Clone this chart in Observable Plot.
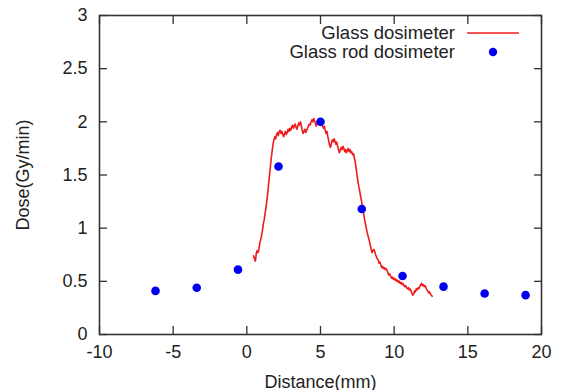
<!DOCTYPE html>
<html>
<head>
<meta charset="utf-8">
<script src="https://cdn.jsdelivr.net/npm/d3@7"></script>
<script src="https://cdn.jsdelivr.net/npm/@observablehq/plot@0.6"></script>
<style>
  html, body { margin: 0; padding: 0; background: #fff; }
  #chart svg { display: block; }
</style>
</head>
<body>
<div id="chart"></div>
<script>
// Tick values
const xTicks = [-10, -5, 0, 5, 10, 15, 20];
const yTicks = [0, 0.5, 1, 1.5, 2, 2.5, 3];

// Series names
const seriesNames = ["Glass dosimeter", "Glass rod dosimeter"];

// Glass rod dosimeter (points)
const rodX = [-6.2, -3.4, -0.6, 2.15, 5.0, 7.8, 10.57, 13.35, 16.14, 18.92];
const rodDose = [0.41, 0.44, 0.61, 1.58, 2.00, 1.18, 0.55, 0.45, 0.385, 0.37];

// Glass dosimeter (noisy profile)
const glassX = [
  0.46, 0.52, 0.58, 0.64, 0.70, 0.76, 0.82, 0.88, 0.94, 1.00,
  1.06, 1.12, 1.18, 1.24, 1.30, 1.36, 1.42, 1.48, 1.54, 1.60,
  1.66, 1.72, 1.78, 1.84, 1.90, 1.96, 2.02, 2.08, 2.14, 2.20,
  2.26, 2.32, 2.38, 2.44, 2.50, 2.56, 2.62, 2.68, 2.74, 2.80,
  2.86, 2.92, 2.98, 3.04, 3.10, 3.16, 3.22, 3.28, 3.34, 3.40,
  3.46, 3.52, 3.58, 3.64, 3.70, 3.76, 3.82, 3.88, 3.94, 4.00,
  4.06, 4.12, 4.18, 4.24, 4.30, 4.36, 4.42, 4.48, 4.54, 4.60,
  4.66, 4.72, 4.78, 4.84, 4.90, 4.96, 5.02, 5.08, 5.14, 5.20,
  5.26, 5.32, 5.38, 5.44, 5.50, 5.56, 5.62, 5.68, 5.74, 5.80,
  5.86, 5.92, 5.98, 6.04, 6.10, 6.16, 6.22, 6.28, 6.34, 6.40,
  6.46, 6.52, 6.58, 6.64, 6.70, 6.76, 6.82, 6.88, 6.94, 7.00,
  7.06, 7.12, 7.18, 7.24, 7.30, 7.36, 7.42, 7.48, 7.54, 7.60,
  7.66, 7.72, 7.78, 7.84, 7.90, 7.96, 8.02, 8.08, 8.14, 8.20,
  8.26, 8.32, 8.38, 8.44, 8.50, 8.56, 8.62, 8.68, 8.74, 8.80,
  8.86, 8.92, 8.98, 9.04, 9.10, 9.16, 9.22, 9.28, 9.34, 9.40,
  9.46, 9.52, 9.58, 9.64, 9.70, 9.76, 9.82, 9.88, 9.94, 10.00,
  10.06, 10.12, 10.18, 10.24, 10.30, 10.36, 10.42, 10.48, 10.54, 10.60,
  10.66, 10.72, 10.78, 10.84, 10.90, 10.96, 11.02, 11.08, 11.14, 11.20,
  11.26, 11.32, 11.38, 11.44, 11.50, 11.56, 11.62, 11.68, 11.74, 11.80,
  11.86, 11.92, 11.98, 12.04, 12.10, 12.16, 12.22, 12.28, 12.34, 12.40,
  12.46, 12.52, 12.58
];
const glassDose = [
  0.74, 0.71, 0.69, 0.76, 0.79, 0.77, 0.80, 0.86, 0.89, 0.93,
  0.98, 1.04, 1.08, 1.14, 1.19, 1.26, 1.33, 1.42, 1.50, 1.58,
  1.66, 1.73, 1.79, 1.83, 1.86, 1.84, 1.88, 1.90, 1.87, 1.91,
  1.92, 1.89, 1.91, 1.88, 1.86, 1.89, 1.91, 1.88, 1.90, 1.93,
  1.91, 1.94, 1.92, 1.95, 1.97, 1.94, 1.96, 1.98, 1.95, 1.93,
  1.96, 1.99, 1.97, 2.00, 1.96, 1.92, 1.89, 1.91, 1.93, 1.90,
  1.92, 1.94, 1.96, 1.98, 1.97, 2.00, 2.02, 2.00, 2.03, 2.01,
  1.98, 1.96, 1.99, 2.01, 1.99, 2.02, 2.00, 1.98, 1.96, 1.94,
  1.96, 1.92, 1.89, 1.91, 1.86, 1.82, 1.78, 1.76, 1.80, 1.83,
  1.81, 1.84, 1.82, 1.79, 1.81, 1.77, 1.74, 1.71, 1.73, 1.76,
  1.74, 1.77, 1.75, 1.72, 1.74, 1.71, 1.73, 1.75, 1.72, 1.74,
  1.71, 1.72, 1.69, 1.70, 1.66, 1.62, 1.56, 1.50, 1.44, 1.39,
  1.35, 1.30, 1.26, 1.21, 1.16, 1.11, 1.06, 1.02, 0.98, 0.94,
  0.91, 0.88, 0.84, 0.80, 0.77, 0.79, 0.80, 0.78, 0.75, 0.73,
  0.71, 0.70, 0.67, 0.68, 0.65, 0.63, 0.64, 0.62, 0.63, 0.61,
  0.62, 0.60, 0.58, 0.56, 0.57, 0.55, 0.53, 0.54, 0.52, 0.53,
  0.51, 0.52, 0.50, 0.51, 0.49, 0.50, 0.48, 0.49, 0.47, 0.48,
  0.46, 0.45, 0.46, 0.44, 0.43, 0.44, 0.42, 0.43, 0.41, 0.39,
  0.37, 0.38, 0.41, 0.40, 0.43, 0.42, 0.44, 0.43, 0.45, 0.47,
  0.48, 0.46, 0.47, 0.45, 0.46, 0.44, 0.42, 0.41, 0.39, 0.40,
  0.38, 0.37, 0.36
];

const lineData = glassX.map((x, i) => ({x, y: glassDose[i]}));
const pointData = rodX.map((x, i) => ({x, y: rodDose[i]}));

const RED = "#ee1c1c";
const BLUE = "#0000ee";
const FRAME = "#333";
const FONT = "'Liberation Sans', Arial, Helvetica, sans-serif";

function legendMark(index, scales, values, dims) {
  const g = d3.create("svg:g")
    .attr("font-family", FONT)
    .attr("font-size", 18.5)
    .attr("fill", "#222");
  const right = dims.width - dims.marginRight;
  const textX = right - 86;
  const rows = [dims.marginTop + 18, dims.marginTop + 37];
  g.selectAll("text").data(seriesNames).join("text")
    .attr("x", textX)
    .attr("y", (d, i) => rows[i])
    .attr("dy", "0.35em")
    .attr("text-anchor", "end")
    .text(d => d);
  g.append("line")
    .attr("x1", textX + 12).attr("x2", textX + 64)
    .attr("y1", rows[0]).attr("y2", rows[0])
    .attr("stroke", RED).attr("stroke-width", 1.4);
  g.append("circle")
    .attr("cx", textX + 38).attr("cy", rows[1]).attr("r", 4.2)
    .attr("fill", BLUE);
  return g.node();
}

const chart = Plot.plot({
  width: 563,
  height: 390,
  marginLeft: 99,
  marginRight: 22,
  marginTop: 15,
  marginBottom: 56,
  style: {fontFamily: FONT, fontSize: "18px", color: "#222", background: "#fff"},
  x: {domain: [-10, 20]},
  y: {domain: [0, 3]},
  marks: [
    Plot.line(lineData, {x: "x", y: "y", stroke: RED, strokeWidth: 1.6}),
    Plot.dot(pointData, {x: "x", y: "y", r: 4.3, fill: BLUE}),
    // inward ticks on all sides
    Plot.axisX({anchor: "bottom", ticks: xTicks, tickSize: 8, dy: -8, fill: "none", label: null, stroke: FRAME, strokeWidth: 1.3}),
    Plot.axisX({anchor: "top", ticks: xTicks, tickSize: 8, dy: 8, fill: "none", label: null, stroke: FRAME, strokeWidth: 1.3}),
    Plot.axisY({anchor: "left", ticks: yTicks, tickSize: 8, dx: 8, fill: "none", label: null, stroke: FRAME, strokeWidth: 1.3}),
    Plot.axisY({anchor: "right", ticks: yTicks, tickSize: 8, dx: -8, fill: "none", label: null, stroke: FRAME, strokeWidth: 1.3}),
    // tick labels + axis titles
    Plot.axisX({anchor: "bottom", ticks: xTicks, tickSize: 0, tickPadding: 11, tickFormat: d => String(d),
      label: "Distance(mm)", labelAnchor: "center", labelArrow: "none", labelOffset: 53}),
    Plot.axisY({anchor: "left", ticks: yTicks, tickSize: 0, tickPadding: 12, tickFormat: d => String(d),
      label: "Dose(Gy/min)", labelAnchor: "center", labelArrow: "none", labelOffset: 83}),
    Plot.frame({stroke: FRAME, strokeWidth: 1.6}),
    legendMark
  ]
});
document.getElementById("chart").appendChild(chart);
</script>
</body>
</html>
